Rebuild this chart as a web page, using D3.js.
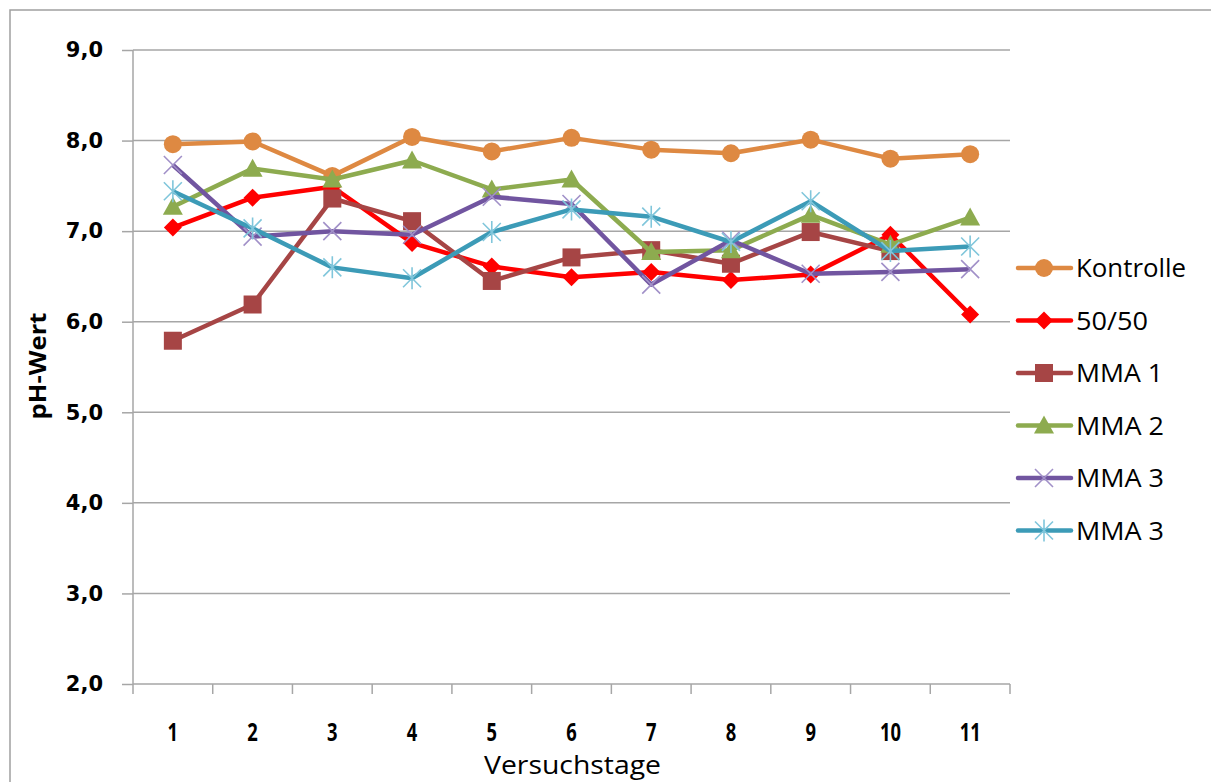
<!DOCTYPE html>
<html><head><meta charset="utf-8">
<script src="https://cdn.jsdelivr.net/npm/d3@7"></script>
<style>body{margin:0;background:#fff}svg{display:block}</style>
</head><body>
<svg id="c" width="1211" height="782"></svg>
<script>
const categories = ["1","2","3","4","5","6","7","8","9","10","11"];
const yTicks = [2,3,4,5,6,7,8,9];
const seriesNames = ["Kontrolle","50/50","MMA 1","MMA 2","MMA 3","MMA 3"];
const kontrolle = [7.96,7.99,7.61,8.04,7.88,8.03,7.90,7.86,8.01,7.80,7.85];
const s5050     = [7.04,7.37,7.49,6.87,6.61,6.49,6.55,6.46,6.52,6.96,6.08];
const mma1      = [5.79,6.19,7.36,7.11,6.45,6.71,6.79,6.64,6.99,6.78,null];
const mma2      = [7.27,7.69,7.57,7.78,7.46,7.57,6.77,6.79,7.18,6.85,7.15];
const mma3a     = [7.73,6.94,7.00,6.96,7.38,7.30,6.41,6.90,6.53,6.55,6.58];
const mma3b     = [7.44,7.03,6.60,6.48,6.99,7.24,7.16,6.88,7.33,6.78,6.83];
const seriesValues = [kontrolle,s5050,mma1,mma2,mma3a,mma3b];
const lineColors = ["#DE8942","#FF0000","#A64545","#8DAB4F","#7155A0","#3C9BB7"];
const markerColors = ["#DE8942","#FF0000","#A64545","#8DAB4F","#A190C8","#80C6DB"];
const markerTypes = ["circle","diamond","square","triangle","x","star"];

const svg = d3.select("#c");
const L=133, R=1010, T=50, B=684;
const x = d3.scalePoint().domain(categories).range([L,R]).padding(0.5);
const xb = d3.scaleBand().domain(categories).range([L,R]);
const y = d3.scaleLinear().domain([2,9]).range([B,T]);
const grid="#A6A6A6";

// frame
svg.append("path").attr("d","M10,782V10H1211").attr("fill","none").attr("stroke","#A0A0A0").attr("stroke-width",1.5);

// gridlines
svg.append("g").selectAll("line").data(yTicks.filter(d=>d>2)).join("line")
  .attr("x1",L).attr("x2",R).attr("y1",d=>y(d)).attr("y2",d=>y(d))
  .attr("stroke",grid).attr("stroke-width",1.5);

// y axis
const ya = svg.append("g").attr("transform",`translate(${L},0)`)
  .call(d3.axisLeft(y).tickValues(yTicks).tickSize(11).tickPadding(19)
    .tickFormat(d=>d3.format(".1f")(d).replace(".",",")));
ya.select(".domain").attr("stroke",grid).attr("stroke-width",1.5).attr("d",`M0,${T}V${B}`);
ya.selectAll(".tick line").attr("stroke",grid).attr("stroke-width",1.5);
ya.selectAll("text").attr("font-family","DejaVu Sans").attr("font-weight","bold").attr("font-size",21).attr("fill","#000");

// x axis
const xa = svg.append("g").attr("transform",`translate(0,${B})`);
xa.append("line").attr("x1",L).attr("x2",R).attr("stroke",grid).attr("stroke-width",1.5);
xa.selectAll("line.tk").data(categories.concat(["end"])).join("line").attr("class","tk")
  .attr("x1",d=>d==="end"?R:xb(d)).attr("x2",d=>d==="end"?R:xb(d)).attr("y1",0).attr("y2",10)
  .attr("stroke",grid).attr("stroke-width",1.5);
xa.selectAll("text").data(categories).join("text")
  .attr("x",d=>x(d)).attr("y",57).attr("text-anchor","middle")
  .attr("font-family","Open Sans").attr("font-weight","bold").attr("font-size",25)
  .attr("textLength",d=>d.length*10.5).attr("lengthAdjust","spacingAndGlyphs")
  .text(d=>d);

// axis titles
svg.append("text").attr("x",(L+R)/2+1).attr("y",774).attr("text-anchor","middle")
  .attr("font-family","Open Sans").attr("font-size",25).attr("textLength",177).attr("lengthAdjust","spacingAndGlyphs")
  .text("Versuchstage");
svg.append("text").attr("transform","translate(46,366) rotate(-90)").attr("text-anchor","middle")
  .attr("font-family","Open Sans").attr("font-weight","bold").attr("font-size",24).attr("textLength",107).attr("lengthAdjust","spacingAndGlyphs")
  .text("pH-Wert");

function marker(g, type, color, cx, cy){
  if(type==="circle") g.append("circle").attr("cx",cx).attr("cy",cy).attr("r",9).attr("fill",color);
  else if(type==="square") g.append("rect").attr("x",cx-9).attr("y",cy-9).attr("width",18).attr("height",18).attr("fill",color);
  else if(type==="diamond") g.append("path").attr("d",`M${cx},${cy-9}L${cx+9},${cy}L${cx},${cy+9}L${cx-9},${cy}Z`).attr("fill",color);
  else if(type==="triangle") g.append("path").attr("d",`M${cx},${cy-10}L${cx+10},${cy+8}L${cx-10},${cy+8}Z`).attr("fill",color);
  else if(type==="x") g.append("path").attr("d",`M${cx-9},${cy-9}L${cx+9},${cy+9}M${cx-9},${cy+9}L${cx+9},${cy-9}`).attr("stroke",color).attr("stroke-width",1.6);
  else if(type==="star") g.append("path").attr("d",`M${cx-9},${cy-9}L${cx+9},${cy+9}M${cx-9},${cy+9}L${cx+9},${cy-9}M${cx},${cy-11}V${cy+11}`).attr("stroke",color).attr("stroke-width",1.6);
}

const line = d3.line().defined(d=>d.v!=null).x(d=>x(d.c)).y(d=>y(d.v));
seriesValues.forEach((vals,i)=>{
  const data = vals.map((v,j)=>({c:categories[j],v}));
  const g = svg.append("g");
  g.append("path").datum(data).attr("d",line).attr("fill","none")
    .attr("stroke",lineColors[i]).attr("stroke-width",4.5).attr("stroke-linejoin","round");
  data.filter(d=>d.v!=null).forEach(d=>marker(g,markerTypes[i],markerColors[i],x(d.c),y(d.v)));
});

// legend
const lg = svg.append("g");
const legendTextLen = [110,72,87,88,88,88];
seriesNames.forEach((n,i)=>{
  const cy = 268 + i*52.5;
  const g = lg.append("g");
  g.append("line").attr("x1",1018).attr("x2",1071).attr("y1",cy).attr("y2",cy)
    .attr("stroke",lineColors[i]).attr("stroke-width",4.5).attr("stroke-linecap","round");
  marker(g,markerTypes[i],markerColors[i],1044,cy);
  g.append("text").attr("x",1076).attr("y",cy+9).attr("font-family","Open Sans").attr("font-size",25)
    .attr("textLength",legendTextLen[i]).attr("lengthAdjust","spacingAndGlyphs").text(n);
});
</script>
</body></html>
